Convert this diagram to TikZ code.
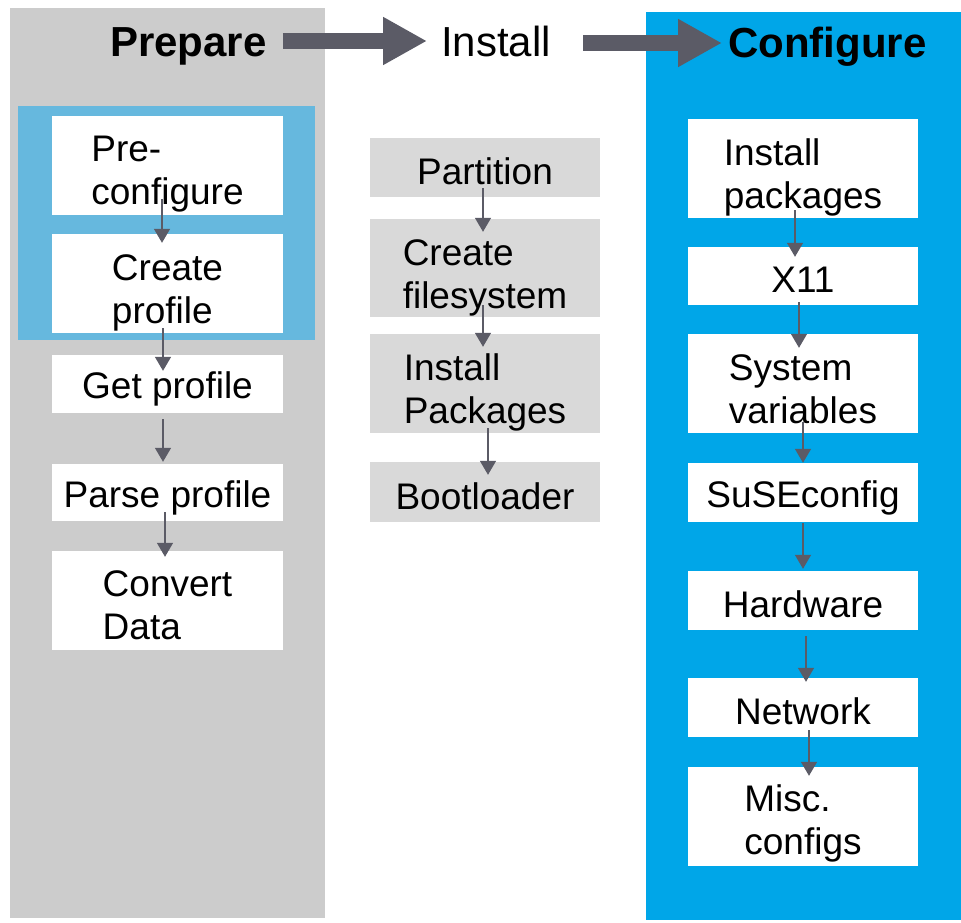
\documentclass[tikz,border=0pt]{standalone}
\usepackage{fontspec}
\setmainfont{Liberation Sans}
\usetikzlibrary{arrows.meta}
\definecolor{panelgray}{HTML}{CCCCCC}
\definecolor{innerblue}{HTML}{66B8DE}
\definecolor{panelblue}{HTML}{00A6E8}
\definecolor{boxgray}{HTML}{D9D9D9}
\definecolor{arrgray}{HTML}{5B5B66}
\newcommand\boxfont{\fontsize{37}{43}\selectfont}
\newcommand\titlefont{\fontsize{42}{48}\selectfont}
\tikzset{
  wbox/.style={fill=white, minimum width=231pt, inner sep=0pt},
  gbox/.style={wbox, fill=boxgray, minimum width=230pt},
  rbox/.style={wbox, minimum width=230pt},
  txt/.style={inner sep=0pt, align=left, font=\boxfont},
  ttl/.style={inner sep=0pt, font=\titlefont},
  sarr/.style={draw=arrgray, line width=1.5pt, -{Triangle[width=16pt,length=14pt]}},
  bigarr/.style={draw=arrgray, line width=16pt, -{Triangle[width=45pt,length=44pt]}},
}
\begin{document}
\begin{tikzpicture}[x=1pt,y=-1pt]
\useasboundingbox (0,0) rectangle (961,923);
% panels
\fill[panelgray] (10,8) rectangle (325,918);
\fill[innerblue] (18,106) rectangle (315,340);
\fill[panelblue] (646,12) rectangle (961,920);
% titles
\node[ttl, anchor=base west, font=\titlefont\bfseries] (prep) at (110,57) {Prepare};
\node[ttl, anchor=base west] (inst) at (441,57) {Install};
\node[ttl, anchor=base west, font=\titlefont\bfseries] (conf) at (728,58) {Configure};
\draw[bigarr] ([shift={(16,-16)}]prep.base east) -- ([shift={(-14,-16)}]inst.base west);
\draw[bigarr] ([shift={(32,-14)}]inst.base east) -- ([shift={(-6,-15)}]conf.base west);
% left column
\node[wbox, minimum height=99pt] (pre) at (167.5,165.5) {};
\node[txt, yshift=-9pt] (pre-t) at (pre) {Pre-\\configure};
\node[wbox, minimum height=99pt] (cre) at (167.5,283.5) {};
\node[txt, yshift=-9pt] (cre-t) at (cre) {Create\\profile};
\node[wbox, minimum height=58pt] (get) at (167.5,384) {};
\node[txt, yshift=-5pt] (get-t) at (get) {Get profile};
\node[wbox, minimum height=57pt] (par) at (167.5,492.5) {};
\node[txt, yshift=-5pt] (par-t) at (par) {Parse profile};
\node[wbox, minimum height=99pt] (con) at (167.5,600.5) {};
\node[txt, yshift=-5pt] (con-t) at (con) {Convert\\Data};
% middle column
\node[gbox, minimum height=59pt] (part) at (485,167.5) {};
\node[txt, yshift=-4pt] (part-t) at (part) {Partition};
\node[gbox, minimum height=98pt] (cfs) at (485,268) {};
\node[txt, yshift=-10pt] (cfs-t) at (cfs) {Create\\filesystem};
\node[gbox, minimum height=99pt] (ipk) at (485,383.5) {};
\node[txt, yshift=-9pt] (ipk-t) at (ipk) {Install\\Packages};
\node[gbox, minimum height=60pt] (boot) at (485,492) {};
\node[txt, yshift=-4pt] (boot-t) at (boot) {Bootloader};
% right column
\node[rbox, minimum height=99pt] (ip) at (803,168.5) {};
\node[txt, yshift=-9pt] (ip-t) at (ip) {Install\\packages};
\node[rbox, minimum height=58pt] (x11) at (803,276) {};
\node[txt, yshift=-4pt] (x11-t) at (x11) {X11};
\node[rbox, minimum height=99pt] (sys) at (803,383.5) {};
\node[txt, yshift=-6pt] (sys-t) at (sys) {System\\variables};
\node[rbox, minimum height=59pt] (suse) at (803,492.5) {};
\node[txt, yshift=-5pt] (suse-t) at (suse) {SuSEconfig};
\node[rbox, minimum height=59pt] (hw) at (803,600.5) {};
\node[txt, yshift=-4pt] (hw-t) at (hw) {Hardware};
\node[rbox, minimum height=59pt] (net) at (803,707.5) {};
\node[txt, yshift=-4pt] (net-t) at (net) {Network};
\node[rbox, minimum height=99pt] (misc) at (803,816.5) {};
\node[txt, yshift=-7pt] (misc-t) at (misc) {Misc.\\configs};
% left arrows
\draw[sarr] ([shift={(-5.5,-16)}]pre.south) -- ([shift={(-5.5,9)}]cre.north);
\draw[sarr] ([shift={(-4.5,-5)}]cre.south) -- ([shift={(-4.5,16)}]get.north);
\draw[sarr] ([shift={(-4.5,6)}]get.south) -- ([shift={(-4.5,-2)}]par.north);
\draw[sarr] ([shift={(-2.5,-9)}]par.south) -- ([shift={(-2.5,6)}]con.north);
% middle arrows
\draw[sarr] ([shift={(-2,-9)}]part.south) -- ([shift={(-2,13)}]cfs.north);
\draw[sarr] ([shift={(-2,-12)}]cfs.south) -- ([shift={(-2,13)}]ipk.north);
\draw[sarr] ([shift={(3,-5)}]ipk.south) -- ([shift={(3,13)}]boot.north);
% right arrows
\draw[sarr] ([shift={(-8,-8)}]ip.south) -- ([shift={(-8,10)}]x11.north);
\draw[sarr] ([shift={(-4,-3)}]x11.south) -- ([shift={(-4,14)}]sys.north);
\draw[sarr] ([shift={(0,-11)}]sys.south) -- ([shift={(0,0)}]suse.north);
\draw[sarr] ([shift={(0,1)}]suse.south) -- ([shift={(0,-2)}]hw.north);
\draw[sarr] ([shift={(3,6)}]hw.south) -- ([shift={(3,4)}]net.north);
\draw[sarr] ([shift={(6,-7)}]net.south) -- ([shift={(6,9)}]misc.north);
\end{tikzpicture}
\end{document}
